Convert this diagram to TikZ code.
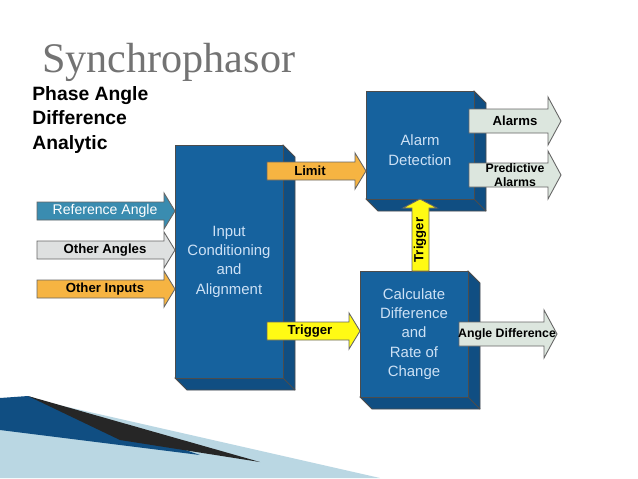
\documentclass[tikz,border=0pt]{standalone}
\usepackage{fontspec}
\setmainfont{Liberation Sans}
\newfontfamily\titlefont{Liberation Serif}
\definecolor{blockblue}{RGB}{22,98,158}
\definecolor{blockside}{RGB}{16,78,130}
\definecolor{refteal}{RGB}{58,140,176}
\definecolor{anglegrey}{RGB}{222,224,224}
\definecolor{inorange}{RGB}{246,180,66}
\definecolor{trigyellow}{RGB}{255,250,20}
\definecolor{outgreen}{RGB}{220,230,222}
\definecolor{blocktext}{RGB}{205,225,245}
\tikzset{
  blockface/.style={fill=blockblue, draw=black!70, line width=0.5},
  blockdepth/.style={fill=blockside, draw=black!70, line width=0.5},
  blocklabel/.style={text=blocktext, align=center, font=\fontsize{8.5}{11}\selectfont},
  arrowlabel/.style={font=\bfseries\fontsize{7.5}{8}\selectfont, align=center},
  arrowbody/.style={draw=black!60, line width=0.5, line join=miter}
}
% block: name, x1, y1, x2, y2, depth
\newcommand{\blk}[6]{%
  \fill[blockdepth] (#4,#3) -- (#4+#6,#3+#6) -- (#4+#6,#5+#6) -- (#1+#6,#5+#6) -- (#1,#5) -- cycle;
  \draw[draw=black!70, line width=0.5] (#4,#5) -- (#4+#6,#5+#6);
  \draw[blockface] (#1,#3) rectangle (#4,#5);
  \coordinate (#2) at ({(#1+#4)/2},{(#3+#5)/2});}
% horizontal arrow: x1, x2, yc, half body, half head, head length, colour
\newcommand{\harrow}[7]{%
  \draw[arrowbody, fill=#7] (#1,#3-#4) -- (#2-#6,#3-#4) -- (#2-#6,#3-#5) -- (#2,#3)
    -- (#2-#6,#3+#5) -- (#2-#6,#3+#4) -- (#1,#3+#4) -- cycle;}
\begin{document}
\begin{tikzpicture}[x=0.02cm, y=-0.02cm]
  \useasboundingbox (0,0) rectangle (638,478);
  \fill[white] (0,0) rectangle (638,478);
  % Corner swoosh
  \fill[refteal!35] (0,400) -- (28,398) -- (380,478) -- (0,478) -- cycle;
  \fill[blockside] (0,398) -- (28,396) -- (200,455) -- (0,430) -- cycle;
  \fill[black!85] (28,396) -- (260,462) -- (120,440) -- cycle;
  % Titles
  \node[anchor=west, text=black!55, font=\titlefont\fontsize{24}{26}\selectfont] (title) at (36,62) {Synchrophasor};
  \node[anchor=north west, align=left, font=\bfseries\fontsize{11}{14}\selectfont, inner sep=0] (sub) at (32,86) {Phase Angle\\Difference\\Analytic};
  % Blocks
  \blk{175}{inblk}{145}{283}{378}{12}
  \blk{366}{alarmblk}{91}{474}{199}{12}
  \blk{360}{calcblk}{271}{468}{397}{12}
  \node[blocklabel] (intext) at (inblk) {Input\\Conditioning\\and\\Alignment};
  \node[blocklabel] (alarmtext) at ([yshift=-3]alarmblk) {Alarm\\Detection};
  \node[blocklabel] (calctext) at (calcblk) {Calculate\\Difference\\and\\Rate of\\Change};
  % Input arrows
  \harrow{37}{175}{211}{9}{18}{11}{refteal}
  \harrow{37}{175}{250}{9}{18}{11}{anglegrey}
  \harrow{37}{175}{289}{9}{18}{11}{inorange}
  \node[arrowlabel, text=white, font=\fontsize{8}{9}\selectfont] (refl) at (105,211) {Reference Angle};
  \node[arrowlabel] (othang) at (105,250) {Other Angles};
  \node[arrowlabel] (othin) at (105,289) {Other Inputs};
  % Inner arrows
  \harrow{267}{366}{171}{9}{18}{11}{inorange}
  \harrow{267}{360}{331}{9}{18}{11}{trigyellow}
  \node[arrowlabel] (limitl) at (310,171) {Limit};
  \node[arrowlabel] (trigl) at (310,331) {Trigger};
  \draw[arrowbody, fill=trigyellow] (412,271) -- (412,208) -- (403,208) -- (420,199)
    -- (437,208) -- (429,208) -- (429,271) -- cycle;
  \node[arrowlabel, rotate=90] (trigv) at (420,240) {Trigger};
  % Output arrows
  \harrow{469}{561}{121}{12}{24}{13}{outgreen}
  \harrow{469}{561}{175}{12}{24}{13}{outgreen}
  \harrow{459}{557}{334}{12}{24}{13}{outgreen}
  \node[arrowlabel] (alarml) at (515,121) {Alarms};
  \node[arrowlabel, font=\bfseries\fontsize{7}{8}\selectfont] (predl) at (515,175) {Predictive\\Alarms};
  \node[arrowlabel, font=\bfseries\fontsize{7}{8}\selectfont] (angl) at (507,334) {Angle Difference};
\end{tikzpicture}
\end{document}
